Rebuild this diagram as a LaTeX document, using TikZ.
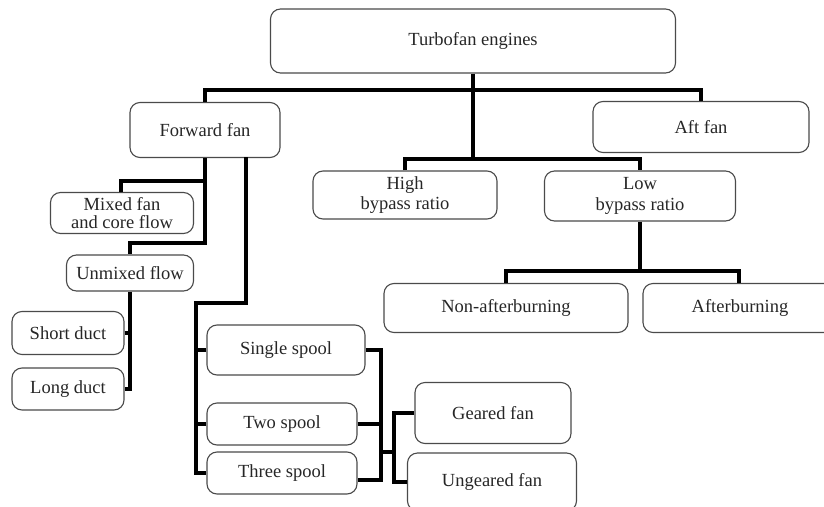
\documentclass[tikz,border=0pt]{standalone}
\usepackage{fontspec}
\setmainfont{Liberation Serif}
\definecolor{txt}{HTML}{262626}
\definecolor{edge}{HTML}{4A4A4A}
\begin{document}
\begin{tikzpicture}[x=1pt,y=-1pt,
  box/.style={draw=edge, line width=1.1pt, rounded corners=10pt, inner sep=0pt,
    text=txt, font=\fontsize{18.5}{20.5}\selectfont, align=center},
  conn/.style={line width=3.4pt, black, line join=miter}]
\useasboundingbox (0,0) rectangle (824,506);
\clip (0,0) rectangle (824,506);
% nodes
\node[box, minimum width=405pt, minimum height=64pt] (tf) at (473,41) {Turbofan engines};
\node[box, minimum width=150pt, minimum height=55pt] (ff) at (205,130) {Forward fan};
\node[box, minimum width=216pt, minimum height=51pt] (aft) at (701,127) {Aft fan};
\node[box, minimum width=184pt, minimum height=48pt] (hb) at (405,195) {High\\bypass ratio};
\node[box, minimum width=191pt, minimum height=50pt] (lb) at (640,196) {Low\\bypass ratio};
\node[box, minimum width=244pt, minimum height=49pt] (na) at (506,308) {Non-afterburning};
\node[box, minimum width=194pt, minimum height=49pt] (ab) at (740,308) {Afterburning};
\node[box, minimum width=143pt, minimum height=41pt, font=\fontsize{18.5}{18.5}\selectfont] (mx) at (122,213) {Mixed fan\\and core flow};
\node[box, minimum width=127pt, minimum height=36pt] (um) at (130,273) {Unmixed flow};
\node[box, minimum width=112pt, minimum height=43pt] (sd) at (68,333) {Short duct};
\node[box, minimum width=112pt, minimum height=42pt] (ld) at (68,389) {Long duct};
\node[box, minimum width=158pt, minimum height=50pt] (ss) at (286,350) {Single spool};
\node[box, minimum width=150pt, minimum height=42pt] (tw) at (282,424) {Two spool};
\node[box, minimum width=150pt, minimum height=42pt] (th) at (282,473) {Three spool};
\node[box, minimum width=156pt, minimum height=61pt] (gf) at (493,413) {Geared fan};
\node[box, minimum width=169pt, minimum height=58pt] (ug) at (492,482) {Ungeared fan};
% junction coordinates
\coordinate (j1) at (473,90);
\coordinate (j2) at (473,159);
\coordinate (j3) at (639,271);
\coordinate (m1) at (205,181);
\coordinate (a1) at (205,243);
\coordinate (b0) at (246,157);
\coordinate (b1) at (246,303);
\coordinate (b2) at (196,303);
\coordinate (c1) at (381,350);
\coordinate (c2) at (381,480);
\coordinate (d1) at (394,452);
% connectors
\draw[conn] (tf.south) -- (j2);
\draw[conn] (ff.north) -- (ff.north |- j1) -- (aft.north |- j1) -- (aft.north);
\draw[conn] (hb.north) -- (hb.north |- j2) -- (lb.north |- j2) -- (lb.north);
\draw[conn] (lb.south) -- (lb.south |- j3);
\draw[conn] (na.north) -- (na.north |- j3) -- ([xshift=-1pt]ab.north |- j3) -- ([xshift=-1pt]ab.north);
\draw[conn] (ff.south) -- (a1) -| (um.north);
\draw[conn] (m1) -| ([xshift=-1pt]mx.north);
\draw[conn] (um.south) -- (um.south |- ld.east) -- (ld.east);
\draw[conn] (sd.east) -- (sd.east -| um.south);
\draw[conn] (b0) -- (b1) -- (b2) -- (b2 |- th.west) -- (th.west);
\draw[conn] (ss.west) -- (ss.west -| b2);
\draw[conn] (tw.west) -- (tw.west -| b2);
\draw[conn] (ss.east) -- (c1) -- (c2) -- (c2 -| th.east);
\draw[conn] (tw.east) -- (tw.east -| c1);
\draw[conn] (d1 -| c1) -- (d1);
\draw[conn] (gf.west) -- (gf.west -| d1) -- (d1 |- ug.west) -- (ug.west);
\end{tikzpicture}
\end{document}
